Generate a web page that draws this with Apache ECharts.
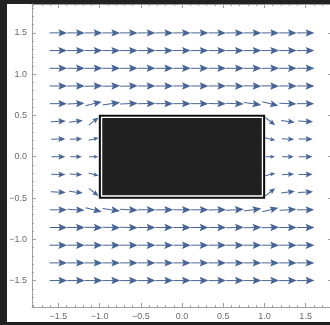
<!DOCTYPE html>
<html><head><meta charset="utf-8">
<script src="https://cdn.jsdelivr.net/npm/echarts@6/dist/echarts.min.js"></script>
<style>
html,body{margin:0;padding:0;background:#222;width:330px;height:325px;overflow:hidden;}
#panel{position:absolute;left:7px;top:4px;width:323px;height:318px;background:#fff;}
#chart{position:absolute;left:0;top:0;width:330px;height:325px;}
</style></head><body>
<div id="panel"></div><div id="chart"></div>
<script>
// grid point coordinates
const xs = [-1.5, -1.2857, -1.0714, -0.8571, -0.6429, -0.4286, -0.2143, 0, 0.2143, 0.4286, 0.6429, 0.8571, 1.0714, 1.2857, 1.5];
const ys = [1.5, 1.2857, 1.0714, 0.8571, 0.6429, 0.4286, 0.2143, 0, -0.2143, -0.4286, -0.6429, -0.8571, -1.0714, -1.2857, -1.5];
const N = null;
// vector direction (degrees) per row (top to bottom), per column (left to right)
const angles = [
  [0,0,0,0,0,0,0,0,0,0,0,0,0,0,0],
  [0,0,0,0,0,0,0,0,0,0,0,0,0,0,0],
  [0,0,0,0,0,0,0,0,0,0,0,0,0,0,0],
  [0,0,2,2,1,0,0,0,0,0,-1,-2,-2,0,0],
  [0,3,14,8,3,1,0,0,0,-1,-3,-8,-14,-3,0],
  [3,8,38,N,N,N,N,N,N,N,N,N,-38,-8,-3],
  [1,3,14,N,N,N,N,N,N,N,N,N,-14,-3,-1],
  [0,0,0,N,N,N,N,N,N,N,N,N,0,0,0],
  [-1,-3,-14,N,N,N,N,N,N,N,N,N,14,3,1],
  [-3,-8,-38,N,N,N,N,N,N,N,N,N,38,8,3],
  [0,-3,-14,-8,-3,-1,0,0,0,1,3,8,14,3,0],
  [0,0,-2,-2,-1,0,0,0,0,0,1,2,2,0,0],
  [0,0,0,0,0,0,0,0,0,0,0,0,0,0,0],
  [0,0,0,0,0,0,0,0,0,0,0,0,0,0,0],
  [0,0,0,0,0,0,0,0,0,0,0,0,0,0,0]
];
// relative vector magnitude per row / column
const mags = [
  [1,1,1,1,1,1,1,1,1,1,1,1,1,1,1],
  [1,1,1,1,1,1,1,1,1,1,1,1,1,1,1],
  [1,1,1,1,1,1,1,1,1,1,1,1,1,1,1],
  [1,1,1,1,1,1,1,1,1,1,1,1,1,1,1],
  [0.97,0.96,0.94,1,1,1,1,1,1,1,1,1,0.94,0.96,0.97],
  [0.85,0.78,0.7,N,N,N,N,N,N,N,N,N,0.7,0.78,0.85],
  [0.8,0.7,0.58,N,N,N,N,N,N,N,N,N,0.58,0.7,0.8],
  [0.78,0.66,0.52,N,N,N,N,N,N,N,N,N,0.52,0.66,0.78],
  [0.8,0.7,0.58,N,N,N,N,N,N,N,N,N,0.58,0.7,0.8],
  [0.85,0.78,0.7,N,N,N,N,N,N,N,N,N,0.7,0.78,0.85],
  [0.97,0.96,0.94,1,1,1,1,1,1,1,1,1,0.94,0.96,0.97],
  [1,1,1,1,1,1,1,1,1,1,1,1,1,1,1],
  [1,1,1,1,1,1,1,1,1,1,1,1,1,1,1],
  [1,1,1,1,1,1,1,1,1,1,1,1,1,1,1],
  [1,1,1,1,1,1,1,1,1,1,1,1,1,1,1]
];
// obstacle rectangle
const boxX = [-1, 1];
const boxY = [-0.5, 0.5];
// ticks
const majorTicks = [-1.5, -1.0, -0.5, 0, 0.5, 1.0, 1.5];
const minorTicks = [-1.8,-1.7,-1.6,-1.4,-1.3,-1.2,-1.1,-0.9,-0.8,-0.7,-0.6,-0.4,-0.3,-0.2,-0.1,0.1,0.2,0.3,0.4,0.6,0.7,0.8,0.9,1.1,1.2,1.3,1.4,1.6,1.7,1.8];

const arrowColor = '#486596';
const frameColor = '#a0a0a0';
const labelColor = '#6b6b6b';

const vecData = [];
for (let r = 0; r < ys.length; r++) {
  for (let c = 0; c < xs.length; c++) {
    if (angles[r][c] !== null) vecData.push([xs[c], ys[r], angles[r][c], mags[r][c]]);
  }
}

function fmt(v) {
  return (v < 0 ? '\u2212' : '') + Math.abs(v).toFixed(1);
}

function renderArrow(params, api) {
  const p = api.coord([api.value(0), api.value(1)]);
  const step = api.size([xs[1] - xs[0], 0])[0];
  const L = api.value(3) * step * 1.0;
  const a = api.value(2) * Math.PI / 180;
  const hl = L * 0.5, hw = L * 0.21;
  const tip = L / 2, tail = -L / 2;
  return {
    type: 'group', x: p[0], y: p[1], rotation: a,
    children: [
      {type: 'line', shape: {x1: tail, y1: 0, x2: tip - hl * 0.7, y2: 0},
       style: {stroke: arrowColor, lineWidth: 1}},
      {type: 'polygon', shape: {points: [[tip, 0], [tip - hl, -hw], [tip - hl * 0.82, 0], [tip - hl, hw]]},
       style: {fill: arrowColor}}
    ]
  };
}

function renderBox(params, api) {
  const p0 = api.coord([api.value(0), api.value(3)]);
  const p1 = api.coord([api.value(2), api.value(1)]);
  const w = p1[0] - p0[0], h = p1[1] - p0[1];
  return {
    type: 'group',
    children: [
      {type: 'rect', shape: {x: p0[0], y: p0[1], width: w, height: h},
       style: {fill: '#202020', stroke: '#0c0c0c', lineWidth: 1.5}},
      {type: 'rect', shape: {x: p0[0] + 2, y: p0[1] + 2, width: w - 4, height: h - 4},
       style: {fill: 'none', stroke: '#ffffff', lineWidth: 1.3}}
    ]
  };
}

const XMIN = -1.82, XMAX = 1.82, YMIN = -1.82, YMAX = 1.85;

function majorAxis(pos, showLabel, min, max) {
  return {
    type: 'value', min: min, max: max, position: pos,
    axisLine: {show: true, onZero: false, lineStyle: {color: frameColor, width: 1}},
    axisTick: {show: true, inside: true, length: 4, customValues: majorTicks, lineStyle: {color: frameColor}},
    axisLabel: {show: showLabel, customValues: majorTicks, formatter: fmt, color: labelColor,
      fontSize: 9, fontFamily: 'Liberation Sans, Arial, sans-serif', margin: 5},
    splitLine: {show: false}
  };
}
function minorAxis(pos, min, max) {
  return {
    type: 'value', min: min, max: max, position: pos,
    axisLine: {show: false, onZero: false},
    axisTick: {show: true, inside: true, length: 2, customValues: minorTicks, lineStyle: {color: frameColor}},
    axisLabel: {show: false},
    splitLine: {show: false}
  };
}

const chart = echarts.init(document.getElementById('chart'), null, {renderer: 'canvas'});
chart.setOption({
  animation: false,
  backgroundColor: 'transparent',
  grid: {left: 32, width: 300, top: 4, height: 303, containLabel: false, outerBoundsMode: 'none'},
  xAxis: [majorAxis('bottom', true, XMIN, XMAX), minorAxis('bottom', XMIN, XMAX),
          majorAxis('top', false, XMIN, XMAX), minorAxis('top', XMIN, XMAX)],
  yAxis: [majorAxis('left', true, YMIN, YMAX), minorAxis('left', YMIN, YMAX),
          majorAxis('right', false, YMIN, YMAX), minorAxis('right', YMIN, YMAX)],
  series: [
    {type: 'custom', xAxisIndex: 0, yAxisIndex: 0, data: vecData, renderItem: renderArrow, silent: true},
    {type: 'custom', xAxisIndex: 0, yAxisIndex: 0, data: [[boxX[0], boxY[0], boxX[1], boxY[1]]], renderItem: renderBox, silent: true, z: 5}
  ]
});
</script>
</body></html>
